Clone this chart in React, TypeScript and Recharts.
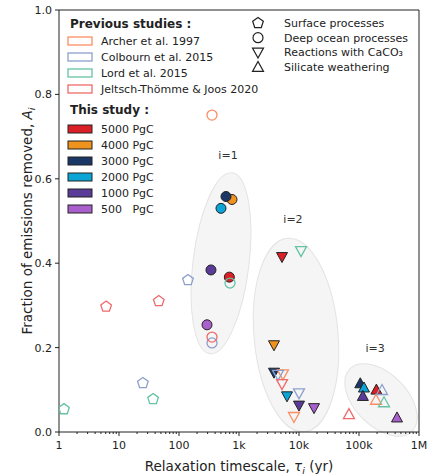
import {
  ScatterChart,
  Scatter,
  XAxis,
  YAxis,
  ReferenceArea,
  ReferenceLine,
  Label,
} from "recharts";

/* ── palette ── */
const C = {
  ink: "#222",
  archer: "#fc8d62",
  colbourn: "#8da0cb",
  lord: "#66c2a5",
  jeltsch: "#f06a6a",
  p5000: "#dc1f26",
  p4000: "#f0921e",
  p3000: "#1b3766",
  p2000: "#0ba4d6",
  p1000: "#5a3b98",
  p500: "#a95fcc",
  blob: "#f5f5f5",
  blobEdge: "#e3e3e3",
};
const FONT = "'DejaVu Sans', sans-serif";

/* ── data: k = process (p surface, c deep ocean, d CaCO3, u silicate) ── */
const archer = [
  { x: 355, y: 0.751, k: "c" },
  { x: 5400, y: 0.137, k: "d" },
  { x: 8250, y: 0.036, k: "d" },
  { x: 192000, y: 0.076, k: "u" },
];
const colbourn = [
  { x: 25, y: 0.116, k: "p" },
  { x: 141, y: 0.36, k: "p" },
  { x: 355, y: 0.211, k: "c" },
  { x: 4470, y: 0.136, k: "d" },
  { x: 10000, y: 0.092, k: "d" },
  { x: 242000, y: 0.099, k: "u" },
];
const lord = [
  { x: 1.21, y: 0.054, k: "p" },
  { x: 37, y: 0.078, k: "p" },
  { x: 708, y: 0.353, k: "c" },
  { x: 10800, y: 0.429, k: "d" },
  { x: 261000, y: 0.07, k: "u" },
];
const jeltsch = [
  { x: 6.1, y: 0.297, k: "p" },
  { x: 46, y: 0.31, k: "p" },
  { x: 355, y: 0.225, k: "c" },
  { x: 5210, y: 0.114, k: "d" },
  { x: 68000, y: 0.042, k: "u" },
];

const run5000 = [
  { x: 690, y: 0.367, k: "c" },
  { x: 5210, y: 0.415, k: "d" },
  { x: 195000, y: 0.1, k: "u" },
];
const run4000 = [
  { x: 764, y: 0.551, k: "c" },
  { x: 3830, y: 0.206, k: "d" },
];
const run3000 = [
  { x: 607, y: 0.558, k: "c" },
  { x: 3830, y: 0.141, k: "d" },
  { x: 105000, y: 0.115, k: "u" },
];
const run2000 = [
  { x: 501, y: 0.53, k: "c" },
  { x: 6310, y: 0.085, k: "d" },
  { x: 121000, y: 0.105, k: "u" },
];
const run1000 = [
  { x: 341, y: 0.384, k: "c" },
  { x: 10000, y: 0.063, k: "d" },
  { x: 116000, y: 0.085, k: "u" },
];
const run500 = [
  { x: 293, y: 0.254, k: "c" },
  { x: 17800, y: 0.057, k: "d" },
  { x: 430000, y: 0.034, k: "u" },
];

/* clusters of timescales i = 1..3 */
const clusterNames = ["i=1", "i=2", "i=3"];
const clusterLabelX = [656, 7940, 185000];
const clusterLabelY = [0.656, 0.505, 0.199];
const clusterX1 = [171, 1778, 43000];
const clusterX2 = [1468, 44700, 1260000];
const clusterY1 = [0.184, 0.0, 0.014];
const clusterY2 = [0.616, 0.46, 0.138];
const clusterTilt = [7, -5, 45];

/* axes */
const xMajor = [1, 10, 100, 1e3, 1e4, 1e5, 1e6];
const xMajorLabels = ["1", "10", "100", "1k", "10k", "100k", "1M"];
const xMinor = xMajor.slice(0, -1).flatMap((d) => [2, 3, 4, 5, 6, 7, 8, 9].map((m) => d * m));
const yTicks = [0, 0.2, 0.4, 0.6, 0.8, 1.0];

/* legend content */
const prevNames = ["Archer et al. 1997", "Colbourn et al. 2015", "Lord et al. 2015", "Jeltsch-Thömme & Joos 2020"];
const prevColors = [C.archer, C.colbourn, C.lord, C.jeltsch];
const runNames = ["5000 PgC", "4000 PgC", "3000 PgC", "2000 PgC", "1000 PgC", "500   PgC"];
const runColors = [C.p5000, C.p4000, C.p3000, C.p2000, C.p1000, C.p500];
const procKinds = ["p", "c", "d", "u"];
const procNames = ["Surface processes", "Deep ocean processes", "Reactions with CaCO₃", "Silicate weathering"];

/* ── markers ── */
const Marker = ({ k, cx, cy, fill, stroke, sw }: any) => {
  const st = { fill, stroke, strokeWidth: sw };
  if (k === "c") return <circle cx={cx} cy={cy} r={5} {...st} />;
  if (k === "d")
    return <polygon points={`${cx - 5.5},${cy - 4.3} ${cx + 5.5},${cy - 4.3} ${cx},${cy + 5.7}`} {...st} />;
  if (k === "u")
    return <polygon points={`${cx - 5.5},${cy + 4.3} ${cx + 5.5},${cy + 4.3} ${cx},${cy - 5.7}`} {...st} />;
  const pts = [0, 1, 2, 3, 4]
    .map((i) => {
      const a = ((-90 + i * 72) * Math.PI) / 180;
      return `${cx + 5.6 * Math.cos(a)},${cy + 5.6 * Math.sin(a)}`;
    })
    .join(" ");
  return <polygon points={pts} {...st} />;
};

const openShape = (color: string) => (p: any) =>
  <Marker k={p.payload.k} cx={p.cx} cy={p.cy} fill="none" stroke={color} sw={1.3} />;
const fullShape = (color: string) => (p: any) =>
  <Marker k={p.payload.k} cx={p.cx} cy={p.cy} fill={color} stroke={C.ink} sw={1} />;

const XTick = ({ x, y, payload }: any) => {
  const i = xMajor.indexOf(payload.value);
  return (
    <g>
      <line x1={x} x2={x} y1={y} y2={y + (i >= 0 ? 4 : 2)} stroke={C.ink} />
      {i >= 0 && (
        <text x={x} y={y + 17} textAnchor="middle" fontSize={11} fill={C.ink} fontFamily={FONT}>
          {xMajorLabels[i]}
        </text>
      )}
    </g>
  );
};

const XTitle = ({ viewBox }: any) => (
  <text x={viewBox.x + viewBox.width / 2} y={viewBox.y + 39} textAnchor="middle" fontSize={13.5} fill={C.ink} fontFamily={FONT}>
    Relaxation timescale, <tspan fontStyle="italic">τ</tspan>
    <tspan fontStyle="italic" fontSize={9.5} dy={3}>i</tspan>
    <tspan dy={-3}> (yr)</tspan>
  </text>
);

const YTitle = ({ viewBox }: any) => {
  const cy = viewBox.y + viewBox.height / 2;
  return (
    <text x={32} y={cy} transform={`rotate(-90 32 ${cy})`} textAnchor="middle" fontSize={13.5} fill={C.ink} fontFamily={FONT}>
      Fraction of emissions removed, <tspan fontStyle="italic">A</tspan>
      <tspan fontStyle="italic" fontSize={9.5} dy={3}>i</tspan>
    </text>
  );
};

const clusterLabels = clusterNames.map((t, i) => ({ x: clusterLabelX[i], y: clusterLabelY[i], t }));

const Blob = (tilt: number) => (p: any) => {
  const cx = p.x + p.width / 2;
  const cy = p.y + p.height / 2;
  return (
    <ellipse
      cx={cx}
      cy={cy}
      rx={p.width / 2}
      ry={p.height / 2}
      transform={`rotate(${tilt} ${cx} ${cy})`}
      fill={C.blob}
      stroke={C.blobEdge}
      strokeWidth={1}
    />
  );
};

const Legends = () => (
  <svg width={427} height={475} style={{ position: "absolute", left: 0, top: 0, pointerEvents: "none" }} fontFamily={FONT}>
    <text x={70} y={28} fontSize={12} fontWeight="bold" fill={C.ink}>Previous studies :</text>
    {prevNames.map((s, i) => (
      <g key={s}>
        <rect x={68} y={41 + i * 16 - 4} width={24} height={8} fill="#fff" stroke={prevColors[i]} strokeWidth={1.3} />
        <text x={101} y={41 + i * 16 + 4} fontSize={11} fill={C.ink}>{s}</text>
      </g>
    ))}
    <text x={70} y={114} fontSize={12} fontWeight="bold" fill={C.ink}>This study :</text>
    {runNames.map((s, i) => (
      <g key={s}>
        <rect x={68} y={129 + i * 16 - 4} width={24} height={8} fill={runColors[i]} stroke={C.ink} strokeWidth={1} />
        <text x={101} y={129 + i * 16 + 4} fontSize={11} fill={C.ink} style={{ whiteSpace: "pre" }}>{s}</text>
      </g>
    ))}
    {procNames.map((s, i) => (
      <g key={s}>
        <Marker k={procKinds[i]} cx={258} cy={23 + i * 14.7} fill="none" stroke={C.ink} sw={1.2} />
        <text x={284} y={23 + i * 14.7 + 4} fontSize={11} fill={C.ink}>{s}</text>
      </g>
    ))}
  </svg>
);

export default function App() {
  return (
    <div style={{ position: "relative", width: 427, height: 475 }}>
      <style>{`body{margin:0}`}</style>
      <ScatterChart width={427} height={475} margin={{ top: 10, right: 8, left: 0, bottom: 0 }}>
        <XAxis
          type="number"
          dataKey="x"
          scale="log"
          domain={[1, 1e6]}
          allowDataOverflow
          ticks={[...xMajor, ...xMinor]}
          interval={0}
          tickSize={0}
          tickMargin={0}
          tick={(p: any) => <XTick {...p} />}
          axisLine={{ stroke: C.ink }}
          height={43}
        >
          <Label content={XTitle} />
        </XAxis>
        <YAxis
          type="number"
          dataKey="y"
          domain={[0, 1]}
          ticks={yTicks}
          tickFormatter={(v: number) => v.toFixed(1)}
          tickSize={4}
          tickMargin={3}
          tickLine={{ stroke: C.ink }}
          axisLine={{ stroke: C.ink }}
          tick={{ fontSize: 11, fill: C.ink, fontFamily: FONT }}
          width={59}
        >
          <Label content={YTitle} />
        </YAxis>
        {clusterNames.map((n, i) => (
          <ReferenceArea
            key={n}
            x1={clusterX1[i]}
            x2={clusterX2[i]}
            y1={clusterY1[i]}
            y2={clusterY2[i]}
            ifOverflow="hidden"
            shape={Blob(clusterTilt[i])}
          />
        ))}
        <ReferenceLine y={1} stroke={C.ink} />
        <ReferenceLine x={1e6} stroke={C.ink} />
        <Scatter data={clusterLabels} isAnimationActive={false}
          shape={(p: any) => (
            <text x={p.cx} y={p.cy + 4} textAnchor="middle" fontSize={11} fill="#333" fontFamily={FONT}>{p.payload.t}</text>
          )}
        />
        <Scatter data={run5000} isAnimationActive={false} shape={fullShape(C.p5000)} />
        <Scatter data={run4000} isAnimationActive={false} shape={fullShape(C.p4000)} />
        <Scatter data={run3000} isAnimationActive={false} shape={fullShape(C.p3000)} />
        <Scatter data={run2000} isAnimationActive={false} shape={fullShape(C.p2000)} />
        <Scatter data={run1000} isAnimationActive={false} shape={fullShape(C.p1000)} />
        <Scatter data={run500} isAnimationActive={false} shape={fullShape(C.p500)} />
        <Scatter data={archer} isAnimationActive={false} shape={openShape(C.archer)} />
        <Scatter data={colbourn} isAnimationActive={false} shape={openShape(C.colbourn)} />
        <Scatter data={lord} isAnimationActive={false} shape={openShape(C.lord)} />
        <Scatter data={jeltsch} isAnimationActive={false} shape={openShape(C.jeltsch)} />
      </ScatterChart>
      <Legends />
    </div>
  );
}
